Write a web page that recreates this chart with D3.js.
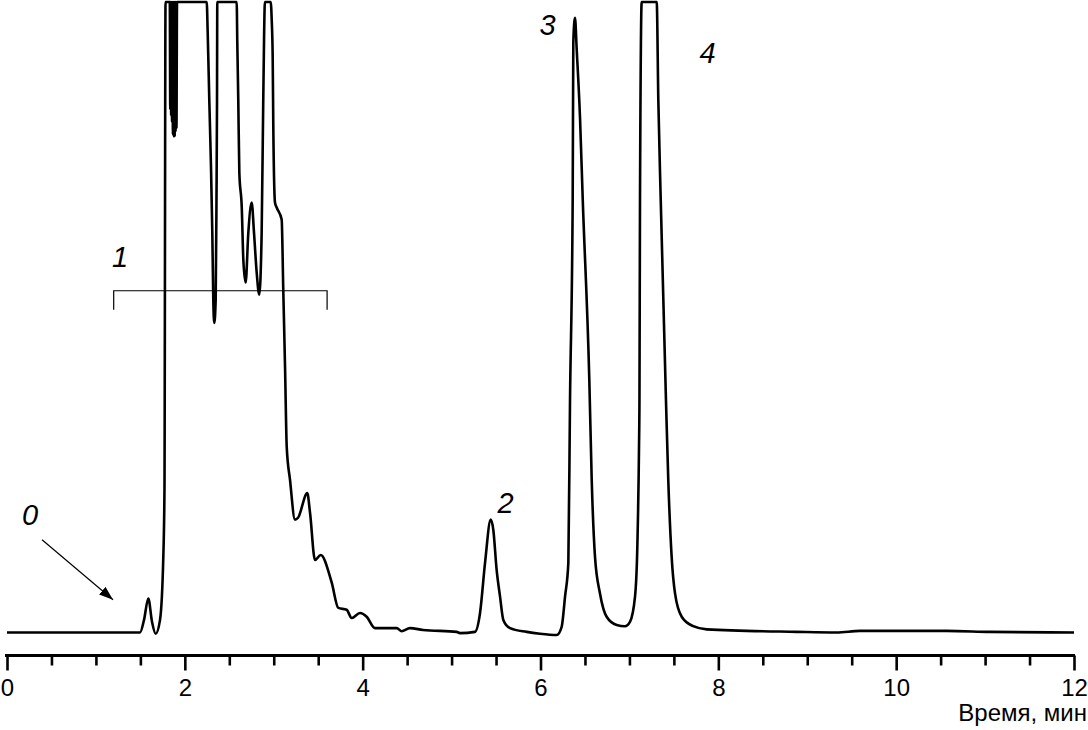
<!DOCTYPE html>
<html>
<head>
<meta charset="utf-8">
<script src="https://cdn.jsdelivr.net/npm/d3@7"></script>
<style>
  html, body { margin: 0; padding: 0; background: #fff; }
  svg { display: block; }
  text { font-family: "Liberation Sans", Arial, sans-serif; fill: #000; }
</style>
</head>
<body>
<svg id="chart" width="1088" height="730"></svg>
<script>
// ---- Data (time in minutes, detector signal in % of recorder full scale; 100 = clipped) ----
const time = [
  0, 1.496, 1.541, 1.589, 1.631, 1.672, 1.721, 1.758, 1.771, 1.783,
  1.831, 1.836, 1.841, 1.846, 1.851, 1.856, 1.861, 1.866, 1.871, 1.876,
  1.881, 1.886, 1.891, 1.896, 1.901, 1.906, 1.912,
  2.246, 2.257, 2.275, 2.294, 2.309, 2.320, 2.331, 2.347, 2.356, 2.362, 2.365,
  2.583, 2.590, 2.601, 2.613, 2.640, 2.658, 2.684, 2.714, 2.752, 2.778, 2.808, 2.837,
  2.864, 2.882, 2.901, 2.966, 2.977, 2.988, 2.995, 3.014, 3.033, 3.089, 3.107, 3.127,
  3.146, 3.183, 3.239, 3.273, 3.377, 3.408, 3.464, 3.528, 3.652, 3.726, 3.820, 3.877,
  3.970, 4.045, 4.139, 4.383, 4.439, 4.532, 4.678, 5.058,
  5.094, 5.263, 5.320, 5.376, 5.440, 5.469, 5.507, 5.545, 5.582, 5.657, 5.845, 5.994, 6.182,
  6.238, 6.276, 6.313, 6.332, 6.362, 6.369, 6.388, 6.407, 6.444, 6.475, 6.549, 6.576,
  6.613, 6.669, 6.744, 6.857, 6.950, 7.006, 7.063, 7.089, 7.108, 7.113, 7.119, 7.138,
  7.307, 7.325, 7.352, 7.411, 7.437, 7.475, 7.513, 7.588, 7.718, 7.869, 8.881, 9.331,
  9.593, 10.568, 11.055, 12.0
];
const signal = [
  0, 0, 2.0, 5.4, 1.7, -0.2, 2.0, 12.0, 22.6, 100,
  100, 83.0, 100, 82.0, 100, 81.0, 100, 79.0, 100, 78.7,
  100, 78.7, 100, 79.5, 100, 80.0, 100,
  100, 95.2, 84.5, 73.9, 63.4, 52.8, 49.1, 52.8, 68.7, 84.5, 100,
  100, 93.5, 84.5, 72.9, 67.5, 59.1, 55.5, 63.4, 68.2, 63.4, 57.1, 53.6,
  63.4, 84.5, 100, 100, 97.2, 91.3, 80.2, 68.2, 67.4, 65.5, 54.4, 42.1,
  29.4, 24.2, 17.9, 18.2, 22.1, 19.0, 11.5, 12.3, 7.9, 3.9, 3.6, 2.3,
  3.1, 2.5, 0.7, 0.7, 0.2, 0.7, 0.4, 0.1,
  -0.1, 0.1, 3.1, 11.0, 17.9, 16.3, 9.9, 5.7, 2.0, 0.7, 0.1, -0.2, -0.4,
  0.9, 5.7, 11.0, 36.9, 68.7, 93.6, 97.5, 92.5, 81.8, 68.7, 40.1, 24.2,
  12.0, 6.2, 2.5, 1.2, 1.0, 1.7, 5.7, 13.6, 29.5, 36.9, 68.7, 100,
  100, 84.5, 68.7, 36.9, 24.2, 12.0, 6.2, 2.5, 1.0, 0.5, 0.1, 0.0,
  0.25, 0.25, 0.1, 0.0
];

// axis ticks
const majorTicks = [0, 2, 4, 6, 8, 10, 12];
const minorTicks = [0.5, 1, 1.5, 2.5, 3, 3.5, 4.5, 5, 5.5, 6.5, 7, 7.5, 8.5, 9, 9.5, 10.5, 11, 11.5];
const axisTitle = "Время, мин";

// peak labels (anchor in data coordinates)
const labelText = ["0", "1", "2", "3", "4"];
const labelTime = [0.259, 1.271, 5.606, 6.079, 7.878];
const labelSignal = [17.1, 57.9, 19.0, 94.8, 90.3];

// bracket marking zone 1 and arrow marking 0
const bracketTime = [1.2, 3.6];
const bracketSignal = 54.2;
const arrowFrom = [0.394, 14.7];
const arrowTo = [1.192, 5.2];

// ---- Drawing ----
const svg = d3.select("#chart");
const x = d3.scaleLinear().domain([0, 12]).range([7, 1074]);
const y = d3.scaleLinear().domain([0, 100]).range([632.5, 2]);

const pts = time.map((t, i) => [t, signal[i]]);

svg.append("path")
  .datum(pts)
  .attr("fill", "none")
  .attr("stroke", "#000")
  .attr("stroke-width", 2.6)
  .attr("stroke-linejoin", "round")
  .attr("d", d3.line().x(d => x(d[0])).y(d => y(d[1])).curve(d3.curveMonotoneX));

// x axis
const axisY = 655.5;
const gMinor = svg.append("g").attr("transform", `translate(0,${axisY})`)
  .call(d3.axisBottom(x).tickValues(minorTicks).tickSize(10).tickSizeOuter(0).tickFormat(""));
gMinor.select(".domain").remove();
gMinor.selectAll(".tick line").attr("stroke", "#000").attr("stroke-width", 2.6);

const gMajor = svg.append("g").attr("transform", `translate(0,${axisY})`)
  .call(d3.axisBottom(x).tickValues(majorTicks).tickSize(15).tickSizeOuter(0).tickPadding(8).tickFormat(d3.format("d")));
gMajor.select(".domain").attr("stroke", "#000").attr("stroke-width", 3)
  .attr("d", `M${x(0) - 2},0H${x(12) + 1}`);
gMajor.selectAll(".tick line").attr("stroke", "#000").attr("stroke-width", 2.6);
gMajor.selectAll(".tick text")
  .attr("font-family", "\"Liberation Sans\", Arial, sans-serif")
  .attr("font-size", 24)
  .attr("fill", "#000")
  .attr("dy", "0.72em");

svg.append("text")
  .attr("x", 1087)
  .attr("y", 721)
  .attr("text-anchor", "end")
  .attr("font-size", 24)
  .text(axisTitle);

// peak labels
svg.selectAll("text.peak")
  .data(labelText)
  .join("text")
  .attr("class", "peak")
  .attr("x", (d, i) => x(labelTime[i]))
  .attr("y", (d, i) => y(labelSignal[i]))
  .attr("text-anchor", "middle")
  .attr("font-size", 29)
  .attr("font-style", "italic")
  .text(d => d);

// bracket
const by = y(bracketSignal);
svg.append("path")
  .attr("fill", "none")
  .attr("stroke", "#000")
  .attr("stroke-width", 1.2)
  .attr("d", `M${x(bracketTime[0])},${by + 19}V${by}H${x(bracketTime[1])}V${by + 19}`);

// arrow
const defs = svg.append("defs");
defs.append("marker")
  .attr("id", "ah")
  .attr("viewBox", "0 0 14 10")
  .attr("refX", 14).attr("refY", 5)
  .attr("markerWidth", 14).attr("markerHeight", 10)
  .attr("markerUnits", "userSpaceOnUse")
  .attr("orient", "auto")
  .append("path").attr("d", "M0,0L14,5L0,10Z").attr("fill", "#000");

svg.append("line")
  .attr("x1", x(arrowFrom[0])).attr("y1", y(arrowFrom[1]))
  .attr("x2", x(arrowTo[0])).attr("y2", y(arrowTo[1]))
  .attr("stroke", "#000").attr("stroke-width", 1.2)
  .attr("marker-end", "url(#ah)");
</script>
</body>
</html>
